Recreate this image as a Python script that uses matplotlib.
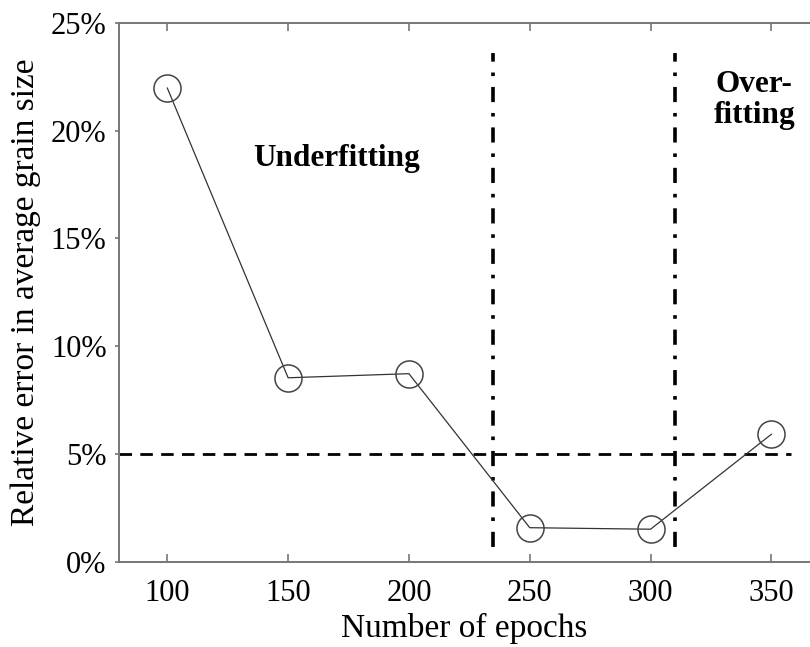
import matplotlib
matplotlib.use("Agg")
import matplotlib.pyplot as plt
from matplotlib.ticker import FuncFormatter

epochs = [100, 150, 200, 250, 300, 350]
rel_error = [21.97, 8.54, 8.73, 1.59, 1.52, 5.92]
xticks = [100, 150, 200, 250, 300, 350]
yticks = [0, 5, 10, 15, 20, 25]
threshold = 5
boundaries = [235, 310]

plt.rcParams['font.family'] = ['Liberation Serif', 'DejaVu Serif']

fig = plt.figure(figsize=(8.10, 6.47), dpi=100)
ax = fig.add_axes([119/810, 1-562/647, 1-119/810, (562-22.7)/647])

ax.plot(epochs, rel_error, color='#333333', lw=0.9, marker='o', markersize=19.5,
        markerfacecolor='none', markeredgecolor='#444444', markeredgewidth=1.1, zorder=3)

ax.plot([80, 358], [threshold, threshold], color='black', lw=2.0,
        linestyle=(0, (4.5, 3.0)), zorder=2)
for b in boundaries:
    ax.plot([b, b], [0.7, 23.6], color='black', lw=2.6,
            linestyle=(0, (4.2, 3.0, 1.0, 3.0)), zorder=2)

ax.text(170, 18.7, 'Underfitting', fontsize=22.5, fontweight='bold', ha='center', va='center')
ax.text(343, 21.4, 'Over-\nfitting', fontsize=22.5, fontweight='bold', ha='center', va='center',
        linespacing=1.1)

ax.set_xlim(80, 366)
ax.set_ylim(0, 25)
ax.set_xticks(xticks)
ax.set_yticks(yticks)
ax.yaxis.set_major_formatter(FuncFormatter(lambda v, p: f'{int(v)}%'))

for s in ['left', 'bottom', 'top']:
    ax.spines[s].set_color('#777777')
    ax.spines[s].set_linewidth(1.4)
ax.spines['right'].set_visible(False)

ax.tick_params(axis='x', direction='in', top=True, length=6, width=1.2, color='#777777',
               labelsize=22, pad=12)
ax.tick_params(axis='y', direction='out', length=3, width=1.2, color='#777777',
               labelsize=22, pad=6)

ax.set_xlabel('Number of epochs', fontsize=24, labelpad=4)
ax.set_ylabel('Relative error in average grain size', fontsize=24, labelpad=7)

fig.savefig('out.png', dpi=100)
